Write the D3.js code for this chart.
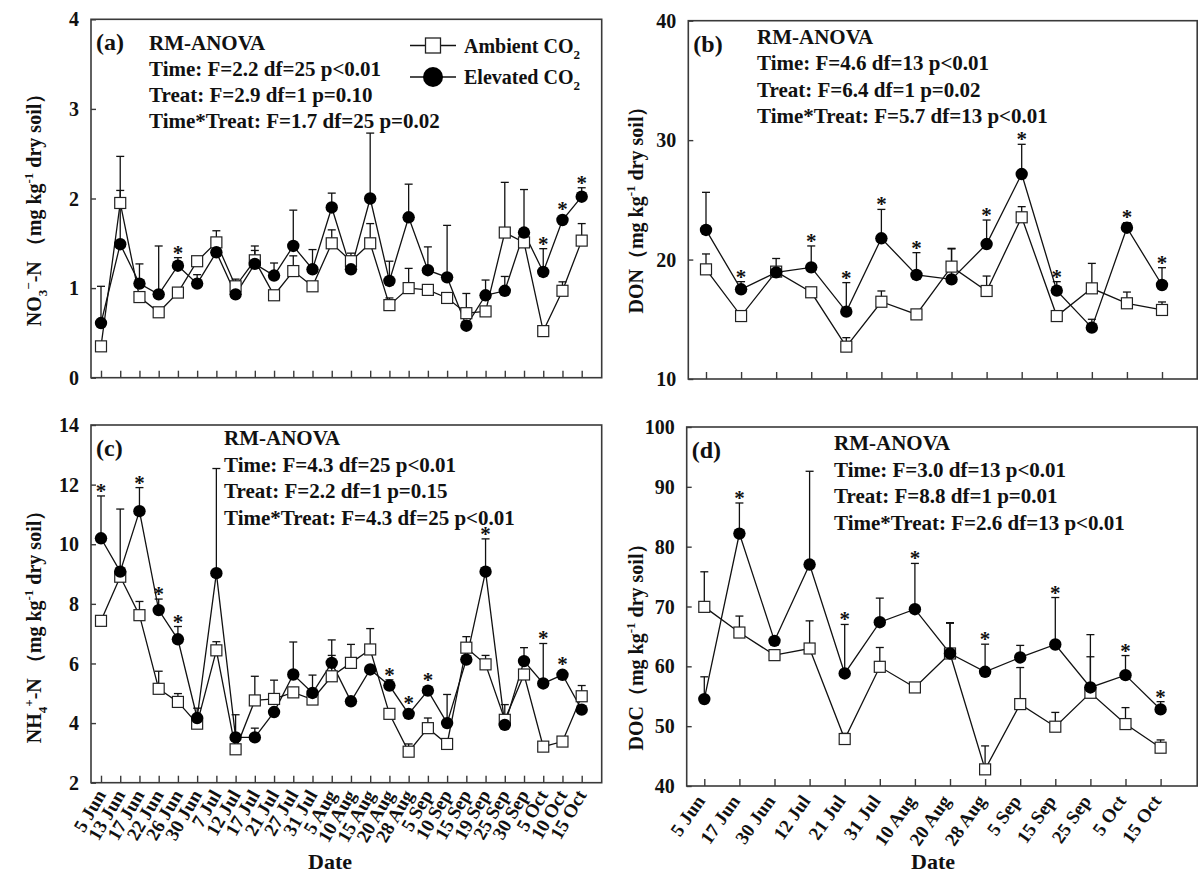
<!DOCTYPE html>
<html>
<head>
<meta charset="utf-8">
<title>soil N and C under elevated CO2</title>
<script src="https://d3js.org/d3.v7.min.js"></script>
<style>
  body { margin: 0; background: #fff; }
  svg text { font-family: "Liberation Serif", "Times New Roman", serif; font-weight: bold; fill: #111; }
</style>
</head>
<body>
<script>
// sampling dates
var datesN = ["5 Jun", "13 Jun", "17 Jun", "22 Jun", "26 Jun", "30 Jun", "7 Jul", "12 Jul", "17 Jul",
  "21 Jul", "27 Jul", "31 Jul", "5 Aug", "10 Aug", "15 Aug", "20 Aug", "28 Aug", "5 Sep", "10 Sep",
  "15 Sep", "19 Sep", "25 Sep", "30 Sep", "5 Oct", "10 Oct", "15 Oct"];
var datesC = ["5 Jun", "17 Jun", "30 Jun", "12 Jul", "21 Jul", "31 Jul", "10 Aug", "20 Aug", "28 Aug",
  "5 Sep", "15 Sep", "25 Sep", "5 Oct", "15 Oct"];

// (a) NO3- -N
var no3Ambient = [0.35, 1.95, 0.90, 0.73, 0.95, 1.30, 1.51, 1.02, 1.31, 0.92, 1.19, 1.02, 1.50, 1.30, 1.50, 0.81, 1.00, 0.98, 0.89, 0.72, 0.74, 1.62, 1.51, 0.52, 0.97, 1.53];
var no3AmbientSE = [0.05, 0.52, 0.06, 0.05, 0.05, 0.05, 0.13, 0.08, 0.11, 0.04, 0.17, 0.05, 0.15, 0.09, 0.22, 0.08, 0.22, 0.03, 0.03, 0.22, 0.03, 0.56, 0.03, 0.03, 0.10, 0.19];
var no3Elevated = [0.61, 1.49, 1.05, 0.93, 1.25, 1.05, 1.40, 0.93, 1.27, 1.14, 1.47, 1.21, 1.90, 1.21, 2.00, 1.08, 1.79, 1.20, 1.12, 0.58, 0.92, 0.97, 1.62, 1.18, 1.76, 2.02];
var no3ElevatedSE = [0.41, 0.60, 0.22, 0.54, 0.09, 0.10, 0.05, 0.05, 0.20, 0.14, 0.40, 0.22, 0.16, 0.05, 0.73, 0.22, 0.37, 0.26, 0.58, 0.05, 0.17, 0.16, 0.48, 0.26, 0.03, 0.10];
var no3Stars = [4, 23, 24, 25];
var no3Anova = ["RM-ANOVA", "Time: F=2.2 df=25 p<0.01", "Treat: F=2.9 df=1 p=0.10", "Time*Treat: F=1.7 df=25 p=0.02"];

// (b) DON
var donAmbient = [19.18, 15.27, 18.99, 17.26, 12.71, 16.47, 15.41, 19.41, 17.37, 23.54, 15.27, 17.59, 16.34, 15.78];
var donAmbientSE = [1.29, 0.15, 1.10, 0.10, 0.75, 0.90, 0.10, 1.53, 1.25, 0.89, 0.10, 2.09, 0.94, 0.67];
var donElevated = [22.48, 17.51, 18.93, 19.35, 15.64, 21.78, 18.71, 18.34, 21.30, 27.16, 17.40, 14.30, 22.67, 17.87];
var donElevatedSE = [3.15, 0.64, 0.15, 1.79, 2.43, 2.42, 1.87, 2.55, 2.01, 2.49, 0.75, 0.70, 0.42, 1.45];
var donStars = [1, 3, 4, 5, 6, 8, 9, 10, 12, 13];
var donAnova = ["RM-ANOVA", "Time: F=4.6 df=13 p<0.01", "Treat: F=6.4 df=1 p=0.02", "Time*Treat: F=5.7 df=13 p<0.01"];

// (c) NH4+ -N
var nh4Ambient = [7.43, 8.91, 7.62, 5.15, 4.71, 3.98, 6.44, 3.12, 4.76, 4.81, 5.03, 4.79, 5.57, 6.02, 6.47, 4.31, 3.04, 3.83, 3.30, 6.53, 5.97, 4.11, 5.63, 3.21, 3.38, 4.90];
var nh4AmbientSE = [0.10, 0.10, 0.46, 0.59, 0.28, 0.15, 0.29, 0.10, 0.81, 0.63, 0.10, 0.15, 0.70, 0.62, 0.70, 0.10, 0.26, 0.34, 0.10, 0.37, 0.30, 0.51, 0.10, 0.10, 0.10, 0.36];
var nh4Elevated = [10.20, 9.08, 11.11, 7.79, 6.81, 4.17, 9.03, 3.52, 3.52, 4.37, 5.63, 5.01, 6.02, 4.73, 5.80, 5.26, 4.31, 5.09, 4.00, 6.13, 9.08, 3.94, 6.08, 5.33, 5.62, 4.45];
var nh4ElevatedSE = [1.42, 2.10, 0.79, 0.37, 0.43, 0.33, 3.51, 0.76, 0.31, 0.10, 1.09, 0.60, 0.77, 0.10, 0.10, 0.19, 0.10, 0.10, 0.96, 0.10, 1.10, 0.10, 0.45, 1.34, 0.10, 0.10];
var nh4Stars = [0, 2, 3, 4, 15, 16, 17, 20, 23, 24];
var nh4Anova = ["RM-ANOVA", "Time: F=4.3 df=25 p<0.01", "Treat: F=2.2 df=1 p=0.15", "Time*Treat: F=4.3 df=25 p<0.01"];

// (d) DOC
var docAmbient = [69.94, 65.65, 61.87, 62.98, 47.85, 59.92, 56.47, 62.15, 42.78, 53.69, 49.91, 55.58, 50.35, 46.40];
var docAmbientSE = [5.86, 2.75, 0.30, 4.62, 0.95, 3.23, 0.30, 5.05, 3.92, 6.11, 2.39, 9.72, 2.75, 1.30];
var docElevated = [54.52, 82.18, 64.26, 77.01, 58.81, 67.38, 69.55, 62.15, 59.09, 61.48, 63.65, 56.47, 58.53, 52.80];
var docElevatedSE = [3.73, 5.12, 0.30, 15.59, 8.19, 4.02, 7.65, 5.15, 4.61, 2.02, 7.85, 5.13, 3.27, 1.30];
var docStars = [1, 4, 6, 8, 10, 12, 13];
var docAnova = ["RM-ANOVA", "Time: F=3.0 df=13 p<0.01", "Treat: F=8.8 df=1 p=0.01", "Time*Treat: F=2.6 df=13 p<0.01"];

// y axis titles, pieces: [text, shift]  shift: 0 normal, 1 sub, -1 sup
var titleA = [["NO", 0], ["3", 1], ["\u2212", -1], ["-N （mg kg", 0], ["-1", -1], [" dry soil）", 0]];
var titleB = [["DON（mg kg", 0], ["-1", -1], [" dry soil）", 0]];
var titleC = [["NH", 0], ["4", 1], ["+", -1], ["-N （mg kg", 0], ["-1", -1], [" dry soil）", 0]];
var titleD = [["DOC（mg kg", 0], ["-1", -1], [" dry soil）", 0]];

var svg = d3.select("body").append("svg")
  .attr("width", 1198)
  .attr("height", 875);

var panels = [
  { tag: "(a)", dates: datesN, amb: no3Ambient, ambSE: no3AmbientSE, elev: no3Elevated, elevSE: no3ElevatedSE,
    stars: no3Stars, anova: no3Anova, title: titleA, yDomain: [0, 4], yTicks: [0, 1, 2, 3, 4],
    left: 91, right: 601.7, top: 19.3, bottom: 377.7, x0: 101, x1: 581.7,
    anovaX: 149, anovaY: 50, anovaStep: 26, titleX: 41, titleY: 205, labels: false },
  { tag: "(b)", dates: datesC, amb: donAmbient, ambSE: donAmbientSE, elev: donElevated, elevSE: donElevatedSE,
    stars: donStars, anova: donAnova, title: titleB, yDomain: [10, 40], yTicks: [10, 20, 30, 40],
    left: 688.3, right: 1197.2, top: 20.7, bottom: 379, x0: 706, x1: 1162,
    anovaX: 757, anovaY: 43.5, anovaStep: 26.6, titleX: 643, titleY: 205, labels: false },
  { tag: "(c)", dates: datesN, amb: nh4Ambient, ambSE: nh4AmbientSE, elev: nh4Elevated, elevSE: nh4ElevatedSE,
    stars: nh4Stars, anova: nh4Anova, title: titleC, yDomain: [2, 14], yTicks: [2, 4, 6, 8, 10, 12, 14],
    left: 91, right: 601.7, top: 425, bottom: 782.7, x0: 101, x1: 581.7,
    anovaX: 224, anovaY: 445, anovaStep: 26.7, titleX: 41, titleY: 622, labels: true,
    angle: -60, labDx: 5, labDy: 12, dateX: 330 },
  { tag: "(d)", dates: datesC, amb: docAmbient, ambSE: docAmbientSE, elev: docElevated, elevSE: docElevatedSE,
    stars: docStars, anova: docAnova, title: titleD, yDomain: [40, 100], yTicks: [40, 50, 60, 70, 80, 90, 100],
    left: 686.7, right: 1197.2, top: 427, bottom: 786, x0: 704.3, x1: 1160.6,
    anovaX: 834, anovaY: 450, anovaStep: 26.7, titleX: 643, titleY: 642, labels: true,
    angle: -55, labDx: 1, labDy: 15, dateX: 933 }
];

panels.forEach(drawPanel);

function drawPanel(p) {
  var x = d3.scalePoint().domain(p.dates).range([p.x0, p.x1]);
  var y = d3.scaleLinear().domain(p.yDomain).range([p.bottom, p.top]);
  var g = svg.append("g");

  // frame
  g.append("rect")
    .attr("x", p.left).attr("y", p.top)
    .attr("width", p.right - p.left).attr("height", p.bottom - p.top)
    .attr("fill", "none").attr("stroke", "#3a3a3a").attr("stroke-width", 1.6);

  // x axis, ticks inside
  var xa = g.append("g")
    .attr("transform", "translate(0," + p.bottom + ")")
    .call(d3.axisBottom(x).tickSize(-7).tickSizeOuter(0).tickFormat(p.labels ? null : ""));
  xa.attr("font-size", 19).attr("font-family", null);
  xa.select(".domain").remove();
  xa.selectAll(".tick line").attr("stroke", "#3a3a3a").attr("stroke-width", 1.4);
  if (p.labels) {
    xa.selectAll(".tick text")
      .attr("x", 0).attr("y", 0).attr("dy", null)
      .attr("text-anchor", "end")
      .attr("transform", "translate(" + p.labDx + "," + p.labDy + ") rotate(" + p.angle + ")");
    g.append("text")
      .attr("x", p.dateX).attr("y", 869)
      .attr("text-anchor", "middle")
      .attr("font-size", 22)
      .text("Date");
  }

  // y axis
  var ya = g.append("g")
    .attr("transform", "translate(" + p.left + ",0)")
    .call(d3.axisLeft(y).tickValues(p.yTicks).tickFormat(d3.format("d"))
      .tickSize(-5).tickSizeOuter(0).tickPadding(12));
  ya.attr("font-size", 20).attr("font-family", null);
  ya.select(".domain").remove();
  ya.selectAll(".tick line").attr("stroke", "#3a3a3a").attr("stroke-width", 1.4);
  ya.selectAll(".tick text").attr("dy", "0.33em");

  // y title
  var tt = g.append("text")
    .attr("transform", "translate(" + p.titleX + "," + p.titleY + ") rotate(-90)")
    .attr("text-anchor", "middle")
    .attr("font-size", 20);
  var shift = 0;
  p.title.forEach(function(piece) {
    var want = piece[1] === 1 ? 6 : piece[1] === -1 ? -8 : 0;
    tt.append("tspan")
      .attr("dy", want - shift)
      .attr("font-size", piece[1] === 0 ? 20 : 13)
      .text(piece[0]);
    shift = want;
  });

  // panel letter
  g.append("text")
    .attr("x", p.left + 5).attr("y", p.top + 31)
    .attr("font-size", 24)
    .text(p.tag);

  // ANOVA text
  g.selectAll("text.anova")
    .data(p.anova)
    .enter()
    .append("text")
    .attr("class", "anova")
    .attr("x", p.anovaX)
    .attr("y", function(d, i) { return p.anovaY + i * p.anovaStep; })
    .attr("font-size", 21)
    .text(function(d) { return d; });

  var amb = p.dates.map(function(d, i) { return { date: d, v: p.amb[i], se: p.ambSE[i] }; });
  var elev = p.dates.map(function(d, i) { return { date: d, v: p.elev[i], se: p.elevSE[i] }; });

  // error bars (upper only)
  [amb, elev].forEach(function(series) {
    var eb = g.append("g").attr("stroke", "#111").attr("stroke-width", 1.3);
    eb.selectAll("line.v").data(series).enter().append("line")
      .attr("x1", function(d) { return x(d.date); })
      .attr("x2", function(d) { return x(d.date); })
      .attr("y1", function(d) { return y(d.v); })
      .attr("y2", function(d) { return y(d.v + d.se); });
    eb.selectAll("line.c").data(series).enter().append("line")
      .attr("x1", function(d) { return x(d.date) - 4; })
      .attr("x2", function(d) { return x(d.date) + 4; })
      .attr("y1", function(d) { return y(d.v + d.se); })
      .attr("y2", function(d) { return y(d.v + d.se); });
  });

  var line = d3.line()
    .x(function(d) { return x(d.date); })
    .y(function(d) { return y(d.v); });

  g.append("path").datum(amb).attr("d", line)
    .attr("fill", "none").attr("stroke", "#111").attr("stroke-width", 1.3);
  g.append("path").datum(elev).attr("d", line)
    .attr("fill", "none").attr("stroke", "#111").attr("stroke-width", 1.3);

  g.selectAll("rect.amb").data(amb).enter().append("rect")
    .attr("x", function(d) { return x(d.date) - 5.5; })
    .attr("y", function(d) { return y(d.v) - 5.5; })
    .attr("width", 11).attr("height", 11)
    .attr("fill", "#fff").attr("stroke", "#222").attr("stroke-width", 1.2);

  g.selectAll("circle.elev").data(elev).enter().append("circle")
    .attr("cx", function(d) { return x(d.date); })
    .attr("cy", function(d) { return y(d.v); })
    .attr("r", 6.2)
    .attr("fill", "#000");

  // significance stars, above the highest bar at that date
  g.selectAll("text.star").data(p.stars).enter().append("text")
    .attr("class", "star")
    .attr("x", function(i) { return x(p.dates[i]); })
    .attr("y", function(i) {
      var top = d3.min([amb[i], elev[i]], function(d) { return Math.min(y(d.v + d.se), y(d.v) - 6); });
      return top + 2;
    })
    .attr("text-anchor", "middle")
    .attr("font-size", 21)
    .attr("font-weight", "normal")
    .text("*");
}

// legend in panel (a)
var legend = svg.append("g");
var legendItems = ["Ambient CO", "Elevated CO"];
var legendY = [45.5, 77];
legendItems.forEach(function(label, i) {
  var yy = legendY[i];
  legend.append("line").attr("x1", 410).attr("x2", 456).attr("y1", yy).attr("y2", yy)
    .attr("stroke", "#111").attr("stroke-width", 1.3);
  if (i === 0) {
    legend.append("rect").attr("x", 425.5).attr("y", yy - 7.5).attr("width", 15).attr("height", 15)
      .attr("fill", "#fff").attr("stroke", "#222").attr("stroke-width", 1.3);
  } else {
    legend.append("circle").attr("cx", 433).attr("cy", yy).attr("r", 10).attr("fill", "#000");
  }
  var t = legend.append("text").attr("x", 464).attr("y", yy + 7).attr("font-size", 20);
  t.append("tspan").text(label);
  t.append("tspan").attr("dy", 6).attr("font-size", 13).text("2");
});
</script>
</body>
</html>
